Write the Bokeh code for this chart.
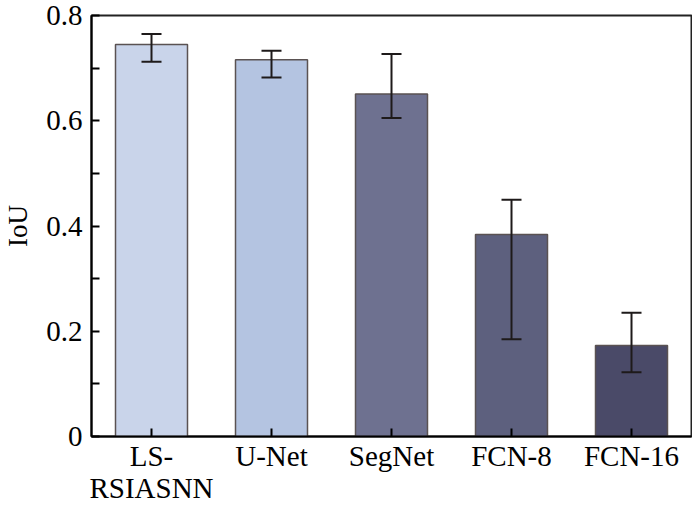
from bokeh.plotting import figure
from bokeh.models import ColumnDataSource, Whisker, CustomJSTickFormatter, FixedTicker
from bokeh.embed import file_html
from bokeh.resources import INLINE

methods = ["LS-\nRSIASNN", "U-Net", "SegNet", "FCN-8", "FCN-16"]
iou = [0.745, 0.716, 0.651, 0.384, 0.173]
err_upper = [0.765, 0.733, 0.727, 0.450, 0.235]
err_lower = [0.712, 0.682, 0.605, 0.185, 0.122]
colors = ["#c9d4ea", "#b4c4e1", "#6e7190", "#5d607e", "#4a4a68"]
y_ticks = [0, 0.2, 0.4, 0.6, 0.8]

src = ColumnDataSource(dict(m=methods, v=iou, up=err_upper, lo=err_lower, c=colors))

FONT = "Liberation Serif"
p = figure(x_range=methods, y_range=(0, 0.8), width=692, height=506,
           output_backend="svg", toolbar_location=None,
           min_border_left=9, min_border_right=1, min_border_top=15, min_border_bottom=10)
p.x_range.range_padding = 0

p.vbar(x="m", top="v", width=0.6, source=src, fill_color="c",
       line_color="#5a5252", line_width=1.5)
w = Whisker(base="m", upper="up", lower="lo", source=src,
            line_color="#1e1a1a", line_width=2, level="overlay")
for h in (w.upper_head, w.lower_head):
    h.size = 20
    h.line_width = 2
    h.line_color = "#1e1a1a"
p.add_layout(w)

p.xgrid.visible = False
p.ygrid.visible = False
p.outline_line_color = "#222222"
p.outline_line_width = 2

p.yaxis.ticker = FixedTicker(ticks=y_ticks, minor_ticks=[0.1, 0.3, 0.5, 0.7])
p.yaxis.formatter = CustomJSTickFormatter(code="return tick == 0 ? '0' : tick.toFixed(1);")
p.yaxis.axis_label = "IoU"

for ax in (p.xaxis[0], p.yaxis[0]):
    ax.axis_line_color = "black"
    ax.axis_line_width = 2
    ax.major_tick_in = 8
    ax.major_tick_out = 0
    ax.minor_tick_in = 8
    ax.minor_tick_out = 0
    ax.major_tick_line_color = "black"
    ax.major_tick_line_width = 2
    ax.minor_tick_line_color = "black"
    ax.minor_tick_line_width = 2
    ax.major_label_text_font = FONT
    ax.major_label_text_font_size = "29px"
    ax.major_label_text_color = "black"
    ax.axis_label_text_font = FONT
    ax.axis_label_text_font_size = "27px"
    ax.axis_label_text_font_style = "normal"
    ax.axis_label_text_color = "black"

p.xaxis.major_label_text_line_height = 1.0
p.yaxis.major_label_standoff = 9
p.xaxis.major_label_standoff = 3
p.yaxis.axis_label_standoff = 10

open("out.html", "w").write(file_html(p, INLINE))
